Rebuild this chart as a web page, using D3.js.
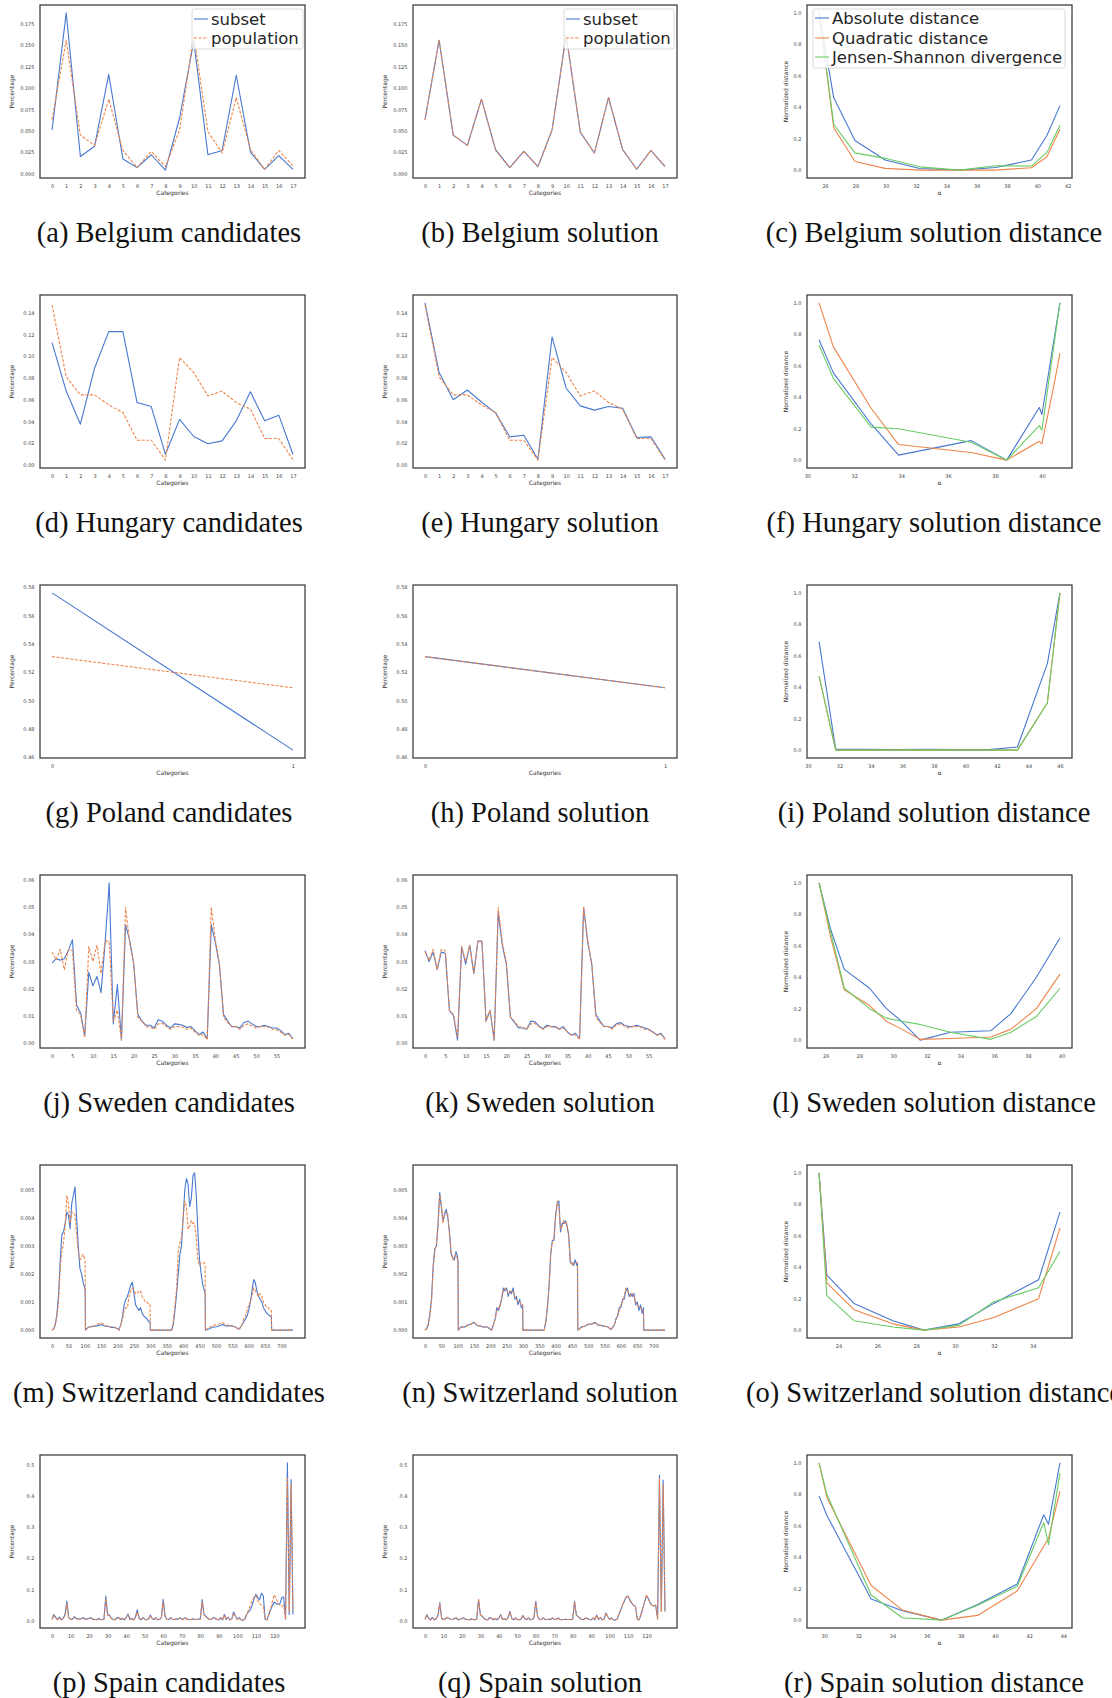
<!DOCTYPE html>
<html>
<head>
<meta charset="utf-8">
<script src="https://cdn.jsdelivr.net/npm/d3@7"></script>
<style>
  body { margin: 0; background: #fff; }
  svg text { font-family: "DejaVu Sans", sans-serif; }
</style>
</head>
<body>
<div id="fig"></div>
<script>
// ---------- data ----------

// Belgium
const belgiumCats = d3.range(18);
const belgiumCandSubset = [0.051, 0.188, 0.020, 0.032, 0.116, 0.017, 0.007, 0.022, 0.004, 0.065, 0.155, 0.022, 0.027, 0.115, 0.025, 0.005, 0.021, 0.005];
const belgiumPopulation = [0.063, 0.156, 0.045, 0.033, 0.087, 0.027, 0.007, 0.026, 0.008, 0.051, 0.162, 0.049, 0.024, 0.089, 0.028, 0.005, 0.027, 0.009];
const belgiumSolSubset  = [0.063, 0.156, 0.045, 0.033, 0.087, 0.028, 0.007, 0.026, 0.008, 0.051, 0.162, 0.048, 0.024, 0.089, 0.028, 0.005, 0.027, 0.008];
const belgiumAlpha = [25.6, 26.57, 27.97, 29.96, 32.23, 34.86, 37.25, 39.61, 40.63, 41.49];
const belgiumAbs   = [1.0, 0.46, 0.188, 0.064, 0.010, 0.0, 0.017, 0.064, 0.22, 0.41];
const belgiumQuad  = [1.0, 0.27, 0.055, 0.011, 0.0, 0.0, 0.0, 0.015, 0.085, 0.26];
const belgiumJS    = [1.0, 0.29, 0.11, 0.075, 0.021, 0.0, 0.028, 0.026, 0.113, 0.285];

// Hungary
const hungaryCats = d3.range(18);
const hungaryCandSubset = [0.1125, 0.068, 0.0376, 0.089, 0.1226, 0.1226, 0.0575, 0.0538, 0.010, 0.042, 0.0263, 0.0196, 0.0223, 0.0407, 0.0673, 0.0407, 0.0459, 0.010];
const hungaryPopulation = [0.147, 0.081, 0.0645, 0.0645, 0.0553, 0.0483, 0.0229, 0.0229, 0.0046, 0.0988, 0.085, 0.0636, 0.068, 0.0575, 0.0514, 0.0245, 0.0245, 0.0049];
const hungarySolSubset  = [0.149, 0.085, 0.060, 0.069, 0.058, 0.048, 0.026, 0.0275, 0.0055, 0.1177, 0.0706, 0.0544, 0.0505, 0.0538, 0.0523, 0.0254, 0.026, 0.0055];
const hungaryAlpha = [30.5, 31.11, 32.72, 33.89, 36.99, 38.5, 39.89, 40.0, 40.53, 40.77];
const hungaryAbs   = [0.765, 0.555, 0.23, 0.032, 0.124, 0.0, 0.335, 0.29, 0.78, 1.0];
const hungaryQuad  = [1.0, 0.72, 0.33, 0.099, 0.049, 0.0, 0.12, 0.103, 0.49, 0.68];
const hungaryJS    = [0.73, 0.52, 0.21, 0.20, 0.114, 0.0, 0.22, 0.19, 0.75, 1.0];

// Poland
const polandCats = [0, 1];
const polandCandSubset = [0.576, 0.465];
const polandPopulation = [0.531, 0.509];
const polandSolSubset  = [0.531, 0.509];
const polandAlpha = [30.7, 31.76, 33.5, 35.5, 37.5, 39.5, 41.5, 43.3, 45.2, 46.0];
const polandAbs   = [0.69, 0.005, 0.005, 0.004, 0.006, 0.004, 0.003, 0.02, 0.55, 1.0];
const polandQuad  = [0.47, 0.0, 0.0, 0.0, 0.0, 0.0, 0.0, 0.0, 0.3, 1.0];
const polandJS    = [0.47, 0.0, 0.0, 0.0, 0.0, 0.0, 0.0, 0.0, 0.3, 1.0];

// Sweden
const swedenCats = d3.range(60);
const swedenCandSubset = [
  0.0295, 0.031, 0.0305, 0.031, 0.034, 0.038, 0.014, 0.011, 0.0025, 0.026,
  0.021, 0.0245, 0.0185, 0.037, 0.059, 0.007, 0.0215, 0.001, 0.0435, 0.038,
  0.029, 0.0105, 0.008, 0.0065, 0.0065, 0.0055, 0.0085, 0.008, 0.0065, 0.0055,
  0.007, 0.0068, 0.0065, 0.0057, 0.006, 0.0045, 0.003, 0.004, 0.0015, 0.0435,
  0.037, 0.0285, 0.0105, 0.008, 0.006, 0.006, 0.0055, 0.0075, 0.008, 0.007,
  0.006, 0.006, 0.0065, 0.006, 0.0055, 0.0055, 0.0045, 0.003, 0.0035, 0.0015];
const swedenPopulation = [
  0.0335, 0.0305, 0.0345, 0.027, 0.0345, 0.034, 0.012, 0.0105, 0.002, 0.0355,
  0.030, 0.036, 0.0255, 0.0375, 0.0375, 0.008, 0.012, 0.001, 0.050, 0.037,
  0.0295, 0.0095, 0.008, 0.006, 0.0058, 0.005, 0.007, 0.0072, 0.006, 0.005,
  0.006, 0.006, 0.0058, 0.005, 0.0055, 0.004, 0.0028, 0.003, 0.0012, 0.050,
  0.038, 0.029, 0.0095, 0.0075, 0.006, 0.006, 0.005, 0.0065, 0.007, 0.0062,
  0.0055, 0.006, 0.006, 0.0058, 0.005, 0.0048, 0.004, 0.0028, 0.0032, 0.0012];
const swedenSolSubset = [
  0.034, 0.030, 0.0335, 0.027, 0.0335, 0.033, 0.012, 0.010, 0.001, 0.0355,
  0.029, 0.036, 0.0255, 0.0375, 0.0375, 0.008, 0.012, 0.001, 0.048, 0.036,
  0.029, 0.0095, 0.0075, 0.0055, 0.0055, 0.005, 0.008, 0.0078, 0.0062, 0.0052,
  0.0065, 0.006, 0.006, 0.005, 0.006, 0.004, 0.0028, 0.0035, 0.0015, 0.050,
  0.037, 0.029, 0.0105, 0.008, 0.0062, 0.006, 0.0055, 0.007, 0.0075, 0.0065,
  0.006, 0.006, 0.0065, 0.006, 0.0055, 0.005, 0.004, 0.003, 0.0035, 0.0015];
const swedenAlpha = [25.6, 26.3, 27.1, 28.6, 29.6, 30.5, 31.6, 33.4, 35.8, 37.0, 38.5, 39.9];
const swedenAbs   = [1.0, 0.7, 0.45, 0.33, 0.2, 0.12, 0.0, 0.05, 0.06, 0.17, 0.4, 0.65];
const swedenQuad  = [1.0, 0.65, 0.32, 0.22, 0.12, 0.07, 0.005, 0.01, 0.02, 0.07, 0.2, 0.42];
const swedenJS    = [1.0, 0.68, 0.33, 0.2, 0.14, 0.12, 0.1, 0.05, 0.005, 0.05, 0.15, 0.33];

// Switzerland (categories 0..735, read at the visible break points)
const swissCats = [
  0, 5, 10, 15, 20, 25, 30, 35, 40, 45,
  50, 55, 60, 65, 70, 75, 80, 85, 90, 95,
  100, 101, 102, 110, 120, 130, 140, 150, 160, 170,
  180, 190, 200, 204, 210, 215, 220, 225, 230, 235,
  240, 245, 250, 255, 260, 265, 270, 275, 280, 285,
  290, 295, 299, 300, 365, 370, 375, 380, 385, 390,
  395, 400, 405, 410, 415, 420, 425, 430, 435, 440,
  445, 450, 455, 460, 465, 467, 468, 480, 490, 500,
  510, 520, 530, 540, 550, 560, 570, 575, 580, 585,
  590, 595, 600, 605, 610, 615, 620, 625, 630, 635,
  640, 645, 650, 655, 660, 665, 669, 670, 735];
const swissCandSubset = [
  0, 0.00005, 0.0002, 0.0006, 0.0013, 0.0025, 0.0034, 0.0035, 0.0038, 0.0042,
  0.0041, 0.0036, 0.0045, 0.0048, 0.0051, 0.0040, 0.0030, 0.0022, 0.0020, 0.0017,
  0.0015, 0.0014, 0, 0.0001, 0.00012, 0.00014, 0.00016, 0.0002, 0.00015, 0.00013,
  0.0001, 0.0001, 0.00005, 0, 0.0002, 0.0005, 0.0009, 0.0011, 0.0012, 0.0014,
  0.0016, 0.0017, 0.0013, 0.0009, 0.0008, 0.0007, 0.0008, 0.0006, 0.0005, 0.00045,
  0.0004, 0.0003, 0.0003, 0, 0, 0.0002, 0.0007, 0.0013, 0.0020, 0.0027,
  0.0030, 0.0040, 0.0050, 0.0054, 0.0052, 0.0044, 0.0047, 0.0055, 0.0056, 0.0048,
  0.0035, 0.0025, 0.0020, 0.0016, 0.0014, 0.0013, 0, 0.00005, 0.0001, 0.00012,
  0.00015, 0.0002, 0.00015, 0.00015, 0.00015, 0.0001, 0.00003, 0.0001, 0.0002, 0.0003,
  0.0004, 0.0005, 0.0007, 0.0010, 0.0014, 0.0018, 0.0017, 0.0014, 0.0012, 0.0011,
  0.0010, 0.0008, 0.0007, 0.0006, 0.00055, 0.0005, 0.0005, 0, 0];
const swissPopulation = [
  0, 0.00005, 0.0002, 0.0005, 0.0010, 0.0022, 0.0028, 0.0031, 0.0037, 0.0048,
  0.0045, 0.0038, 0.0042, 0.0042, 0.0041, 0.0034, 0.0028, 0.0025, 0.0026, 0.0027,
  0.0025, 0.0024, 0, 0.0001, 0.00012, 0.00016, 0.00022, 0.00026, 0.00018, 0.00014,
  0.00012, 0.0001, 0.00004, 0, 0.0002, 0.0004, 0.0007, 0.0008, 0.0008, 0.0012,
  0.0014, 0.0015, 0.0014, 0.0013, 0.0013, 0.0014, 0.0014, 0.0012, 0.0011, 0.0010,
  0.0010, 0.0009, 0.0009, 0, 0, 0.0003, 0.0009, 0.0015, 0.0028, 0.0031,
  0.0033, 0.0040, 0.0046, 0.0044, 0.0036, 0.0037, 0.0039, 0.0038, 0.0038, 0.0033,
  0.0025, 0.0023, 0.0024, 0.0024, 0.0024, 0.0023, 0, 0.0001, 0.00015, 0.0002,
  0.00022, 0.00026, 0.0002, 0.00016, 0.00015, 0.0001, 0.00003, 0.0001, 0.0002, 0.0004,
  0.0005, 0.0007, 0.0009, 0.0010, 0.0012, 0.0015, 0.0014, 0.0013, 0.0012, 0.0013,
  0.0012, 0.0010, 0.0009, 0.0008, 0.0008, 0.0007, 0.0007, 0, 0];
const swissSolSubset = [
  0, 0.00005, 0.0002, 0.0006, 0.0011, 0.0023, 0.0029, 0.0030, 0.0038, 0.0049,
  0.0044, 0.0039, 0.0041, 0.0043, 0.0040, 0.0035, 0.0027, 0.0026, 0.0025, 0.0028,
  0.0026, 0.0024, 0, 0.00012, 0.0001, 0.00018, 0.0002, 0.00028, 0.00016, 0.00015,
  0.0001, 0.00012, 0.00003, 0, 0.00022, 0.0004, 0.0008, 0.0007, 0.0009, 0.0011,
  0.0015, 0.0014, 0.0015, 0.0012, 0.0014, 0.0013, 0.0015, 0.0011, 0.0012, 0.0009,
  0.0011, 0.0008, 0.0009, 0, 0, 0.0003, 0.0008, 0.0016, 0.0027, 0.0032,
  0.0032, 0.0041, 0.0045, 0.0046, 0.0035, 0.0038, 0.0038, 0.0039, 0.0037, 0.0034,
  0.0024, 0.0024, 0.0023, 0.0025, 0.0023, 0.0024, 0, 0.00012, 0.00014, 0.00022,
  0.0002, 0.00028, 0.00018, 0.00017, 0.00013, 0.00012, 0.00002, 0.00012, 0.00018, 0.00042,
  0.0005, 0.0008, 0.0008, 0.0011, 0.0011, 0.0014, 0.0015, 0.0012, 0.0013, 0.0012,
  0.0013, 0.0009, 0.0010, 0.0007, 0.0009, 0.0006, 0.0008, 0, 0];
const swissAlpha = [23.0, 23.4, 24.8, 26.8, 28.4, 30.2, 32.0, 34.3, 35.4];
const swissAbs   = [1.0, 0.35, 0.17, 0.06, 0.0, 0.04, 0.17, 0.32, 0.75];
const swissQuad  = [1.0, 0.3, 0.13, 0.04, 0.0, 0.02, 0.08, 0.2, 0.65];
const swissJS    = [1.0, 0.22, 0.06, 0.02, 0.0, 0.03, 0.18, 0.27, 0.5];

// Spain
const spainCats = d3.range(131);
const spainCandSubset = [
  0.005, 0.02, 0.01, 0.004, 0.012, 0.003, 0.008, 0.02, 0.063, 0.01,
  0.005, 0.005, 0.013, 0.008, 0.006, 0.005, 0.008, 0.01, 0.004, 0.006,
  0.008, 0.01, 0.004, 0.005, 0.003, 0.007, 0.005, 0.004, 0.005, 0.078,
  0.02, 0.018, 0.008, 0.005, 0.003, 0.01, 0.01, 0.004, 0.008, 0.003,
  0.01, 0.022, 0.005, 0.007, 0.003, 0.012, 0.035, 0.008, 0.003, 0.01,
  0.005, 0.003, 0.006, 0.018, 0.008, 0.004, 0.01, 0.003, 0.005, 0.01,
  0.069, 0.015, 0.005, 0.004, 0.01, 0.005, 0.004, 0.006, 0.005, 0.01,
  0.005, 0.006, 0.01, 0.005, 0.003, 0.004, 0.006, 0.004, 0.005, 0.005,
  0.006, 0.068, 0.02, 0.015, 0.008, 0.004, 0.005, 0.01, 0.008, 0.004,
  0.003, 0.01, 0.003, 0.02, 0.004, 0.012, 0.003, 0.006, 0.028, 0.015,
  0.004, 0.01, 0.003, 0.002, 0.005, 0.02, 0.028, 0.035, 0.05, 0.07,
  0.085, 0.075, 0.067, 0.088, 0.08, 0.005, 0.003, 0.02, 0.035, 0.05,
  0.06, 0.055, 0.052, 0.055, 0.075, 0.076, 0.005, 0.505, 0.02, 0.452,
  0.02];
const spainPopulation = [
  0.004, 0.018, 0.008, 0.003, 0.01, 0.003, 0.007, 0.015, 0.055, 0.008,
  0.004, 0.005, 0.011, 0.007, 0.005, 0.004, 0.007, 0.009, 0.004, 0.005,
  0.007, 0.009, 0.004, 0.004, 0.003, 0.006, 0.004, 0.003, 0.004, 0.07,
  0.018, 0.016, 0.007, 0.004, 0.003, 0.009, 0.009, 0.003, 0.007, 0.003,
  0.009, 0.018, 0.004, 0.006, 0.003, 0.01, 0.028, 0.007, 0.003, 0.009,
  0.004, 0.003, 0.005, 0.016, 0.007, 0.004, 0.009, 0.003, 0.004, 0.009,
  0.06, 0.013, 0.004, 0.004, 0.009, 0.004, 0.004, 0.005, 0.004, 0.009,
  0.004, 0.005, 0.009, 0.004, 0.003, 0.004, 0.005, 0.004, 0.004, 0.004,
  0.005, 0.06, 0.018, 0.013, 0.007, 0.004, 0.004, 0.009, 0.007, 0.004,
  0.003, 0.009, 0.003, 0.017, 0.004, 0.01, 0.003, 0.005, 0.024, 0.013,
  0.004, 0.009, 0.003, 0.002, 0.005, 0.02, 0.035, 0.05, 0.065, 0.075,
  0.08, 0.065, 0.055, 0.05, 0.045, 0.005, 0.003, 0.02, 0.04, 0.065,
  0.083, 0.07, 0.055, 0.05, 0.045, 0.05, 0.005, 0.455, 0.03, 0.435,
  0.03];
const spainSolSubset = [
  0.005, 0.019, 0.008, 0.003, 0.011, 0.003, 0.006, 0.016, 0.058, 0.008,
  0.004, 0.006, 0.01, 0.007, 0.005, 0.004, 0.008, 0.009, 0.003, 0.005,
  0.007, 0.01, 0.004, 0.004, 0.003, 0.006, 0.004, 0.003, 0.005, 0.068,
  0.019, 0.015, 0.007, 0.004, 0.003, 0.01, 0.008, 0.003, 0.007, 0.003,
  0.009, 0.02, 0.004, 0.006, 0.003, 0.01, 0.03, 0.007, 0.003, 0.009,
  0.004, 0.003, 0.005, 0.017, 0.007, 0.004, 0.009, 0.003, 0.004, 0.009,
  0.062, 0.013, 0.004, 0.004, 0.009, 0.004, 0.004, 0.005, 0.004, 0.009,
  0.004, 0.005, 0.009, 0.004, 0.003, 0.004, 0.005, 0.004, 0.004, 0.004,
  0.005, 0.062, 0.018, 0.013, 0.007, 0.004, 0.004, 0.009, 0.007, 0.004,
  0.003, 0.009, 0.003, 0.018, 0.004, 0.01, 0.003, 0.005, 0.025, 0.013,
  0.004, 0.009, 0.003, 0.002, 0.005, 0.02, 0.034, 0.05, 0.063, 0.077,
  0.078, 0.066, 0.056, 0.049, 0.046, 0.005, 0.003, 0.02, 0.04, 0.062,
  0.08, 0.07, 0.056, 0.05, 0.047, 0.05, 0.005, 0.465, 0.03, 0.45,
  0.03];
const spainAlpha = [29.7, 30.16, 32.75, 34.57, 36.86, 38.98, 41.3, 42.85, 43.13, 43.8];
const spainAbs   = [0.79, 0.665, 0.135, 0.06, 0.0, 0.1, 0.23, 0.67, 0.61, 1.0];
const spainQuad  = [1.0, 0.78, 0.22, 0.065, 0.0, 0.03, 0.185, 0.47, 0.52, 0.82];
const spainJS    = [1.0, 0.80, 0.16, 0.015, 0.0, 0.095, 0.215, 0.62, 0.48, 0.935];

// tick labels
const belgiumYTicks = [0, 0.025, 0.05, 0.075, 0.1, 0.125, 0.15, 0.175];
const hungaryYTicks = [0, 0.02, 0.04, 0.06, 0.08, 0.1, 0.12, 0.14];
const polandYTicks = [0.46, 0.48, 0.5, 0.52, 0.54, 0.56, 0.58];
const swedenYTicks = [0, 0.01, 0.02, 0.03, 0.04, 0.05, 0.06];
const swissYTicks = [0, 0.001, 0.002, 0.003, 0.004, 0.005];
const spainYTicks = [0, 0.1, 0.2, 0.3, 0.4, 0.5];
const distYTicks = [0, 0.2, 0.4, 0.6, 0.8, 1.0];
const swedenXTicks = [0, 5, 10, 15, 20, 25, 30, 35, 40, 45, 50, 55];
const swissXTicks = [0, 50, 100, 150, 200, 250, 300, 350, 400, 450, 500, 550, 600, 650, 700];
const spainXTicks = [0, 10, 20, 30, 40, 50, 60, 70, 80, 90, 100, 110, 120];

const captions = [
  ["(a) Belgium candidates", "(b) Belgium solution", "(c) Belgium solution distance"],
  ["(d) Hungary candidates", "(e) Hungary solution", "(f) Hungary solution distance"],
  ["(g) Poland candidates", "(h) Poland solution", "(i) Poland solution distance"],
  ["(j) Sweden candidates", "(k) Sweden solution", "(l) Sweden solution distance"],
  ["(m) Switzerland candidates", "(n) Switzerland solution", "(o) Switzerland solution distance"],
  ["(p) Spain candidates", "(q) Spain solution", "(r) Spain solution distance"]
];

// ---------- layout ----------
const blue = "#4878d0", orange = "#ee854a", green = "#6acc64";
const colLeft = [40, 413, 807], colRight = [305, 677, 1072];
const rowTop = 5, rowStep = 290, plotH = 173;
const captionX = [169, 540, 934];

var svg = d3.select("#fig").append("svg")
  .attr("width", 1112)
  .attr("height", 1698);

function padded(vals) {
  var ext = d3.extent(vals);
  var m = (ext[1] - ext[0]) * 0.05;
  return [ext[0] - m, ext[1] + m];
}

function drawPanel(row, col, p) {
  var x0 = colLeft[col], x1 = colRight[col];
  var y0 = rowTop + row * rowStep, y1 = y0 + plotH;
  var g = svg.append("g");

  var x = d3.scaleLinear().domain(p.xDomain).range([x0, x1]);
  var y = d3.scaleLinear().domain(p.yDomain).range([y1, y0]);

  p.series.forEach(function(s) {
    var line = d3.line()
      .x(function(d, i) { return x(s.x[i]); })
      .y(function(d) { return y(d); });
    g.append("path")
      .datum(s.y)
      .attr("d", line)
      .attr("fill", "none")
      .attr("stroke", s.color)
      .attr("stroke-width", 1.1)
      .attr("stroke-linejoin", "round")
      .attr("stroke-dasharray", s.dash ? "3,1.6" : null);
  });

  var xa = g.append("g")
    .attr("transform", "translate(0," + y1 + ")")
    .call(d3.axisBottom(x).tickValues(p.xTicks).tickSize(0).tickPadding(6.2).tickFormat(d3.format("d")));
  var ya = g.append("g")
    .attr("transform", "translate(" + x0 + ",0)")
    .call(d3.axisLeft(y).tickValues(p.yTicks).tickSize(0).tickPadding(5.5).tickFormat(d3.format(p.yFmt)));
  [xa, ya].forEach(function(a) {
    a.select(".domain").remove();
    a.attr("font-size", 5).attr("font-family", "DejaVu Sans");
    a.selectAll("text").attr("fill", "#444");
  });

  // frame
  g.append("rect")
    .attr("x", x0).attr("y", y0)
    .attr("width", x1 - x0).attr("height", y1 - y0)
    .attr("fill", "none")
    .attr("stroke", "#3a3a3a")
    .attr("stroke-width", 1.25);

  // axis labels
  g.append("text")
    .attr("x", (x0 + x1) / 2)
    .attr("y", y1 + 17)
    .attr("text-anchor", "middle")
    .style("font-size", "6px")
    .style("fill", "#333")
    .text(p.xLabel);
  g.append("text")
    .attr("transform", "translate(" + (x0 - (col == 2 ? 21 : 28)) + "," + ((y0 + y1) / 2) + ") rotate(-90)")
    .attr("dy", "0.35em")
    .attr("text-anchor", "middle")
    .style("font-size", "6px")
    .style("fill", "#333")
    .text(p.yLabel);

  // caption
  svg.append("text")
    .attr("x", captionX[col])
    .attr("y", 242 + row * rowStep)
    .attr("text-anchor", "middle")
    .style("font-family", "'Liberation Serif', 'Times New Roman', serif")
    .style("font-size", "28.5px")
    .style("fill", "#111")
    .text(captions[row][col]);

  return g;
}

function drawLegend(box, items) {
  var lg = svg.append("g");
  lg.append("rect")
    .attr("x", box.x).attr("y", box.y)
    .attr("width", box.w).attr("height", box.h)
    .attr("rx", 2)
    .attr("fill", "white").attr("fill-opacity", 0.85)
    .attr("stroke", "#d0d0d0").attr("stroke-width", 0.8);
  items.forEach(function(it, i) {
    var cy = box.rows[i];
    lg.append("line")
      .attr("x1", box.hx).attr("x2", box.hx + 14)
      .attr("y1", cy).attr("y2", cy)
      .attr("stroke", it.color).attr("stroke-width", 1.1)
      .attr("stroke-dasharray", it.dash ? "3,1.6" : null);
    lg.append("text")
      .attr("x", box.tx).attr("y", cy)
      .attr("dy", "0.36em")
      .style("font-size", "16.5px")
      .style("fill", "#262626")
      .text(it.label);
  });
}

// ---------- panels ----------
var countries = [
  {cats: belgiumCats, cand: belgiumCandSubset, pop: belgiumPopulation, sol: belgiumSolSubset,
   xTicks: belgiumCats, yTicks: belgiumYTicks, yFmt: ".3f",
   alpha: belgiumAlpha, abs: belgiumAbs, quad: belgiumQuad, js: belgiumJS, aTicks: [26, 28, 30, 32, 34, 36, 38, 40, 42]},
  {cats: hungaryCats, cand: hungaryCandSubset, pop: hungaryPopulation, sol: hungarySolSubset,
   xTicks: hungaryCats, yTicks: hungaryYTicks, yFmt: ".2f",
   alpha: hungaryAlpha, abs: hungaryAbs, quad: hungaryQuad, js: hungaryJS, aTicks: [30, 32, 34, 36, 38, 40]},
  {cats: polandCats, cand: polandCandSubset, pop: polandPopulation, sol: polandSolSubset,
   xTicks: polandCats, yTicks: polandYTicks, yFmt: ".2f",
   alpha: polandAlpha, abs: polandAbs, quad: polandQuad, js: polandJS, aTicks: [30, 32, 34, 36, 38, 40, 42, 44, 46]},
  {cats: swedenCats, cand: swedenCandSubset, pop: swedenPopulation, sol: swedenSolSubset,
   xTicks: swedenXTicks, yTicks: swedenYTicks, yFmt: ".2f",
   alpha: swedenAlpha, abs: swedenAbs, quad: swedenQuad, js: swedenJS, aTicks: [26, 28, 30, 32, 34, 36, 38, 40]},
  {cats: swissCats, cand: swissCandSubset, pop: swissPopulation, sol: swissSolSubset,
   xTicks: swissXTicks, yTicks: swissYTicks, yFmt: ".3f",
   alpha: swissAlpha, abs: swissAbs, quad: swissQuad, js: swissJS, aTicks: [24, 26, 28, 30, 32, 34]},
  {cats: spainCats, cand: spainCandSubset, pop: spainPopulation, sol: spainSolSubset,
   xTicks: spainXTicks, yTicks: spainYTicks, yFmt: ".1f",
   alpha: spainAlpha, abs: spainAbs, quad: spainQuad, js: spainJS, aTicks: [30, 32, 34, 36, 38, 40, 42, 44]}
];

countries.forEach(function(c, row) {
  var xDom = padded(c.cats);
  var yDom = padded(c.cand.concat(c.pop, c.sol));
  drawPanel(row, 0, {
    xDomain: xDom, yDomain: yDom, xTicks: c.xTicks, yTicks: c.yTicks, yFmt: c.yFmt,
    xLabel: "Categories", yLabel: "Percentage",
    series: [
      {x: c.cats, y: c.cand, color: blue},
      {x: c.cats, y: c.pop, color: orange, dash: true}
    ]
  });
  drawPanel(row, 1, {
    xDomain: xDom, yDomain: yDom, xTicks: c.xTicks, yTicks: c.yTicks, yFmt: c.yFmt,
    xLabel: "Categories", yLabel: "Percentage",
    series: [
      {x: c.cats, y: c.sol, color: blue},
      {x: c.cats, y: c.pop, color: orange, dash: true}
    ]
  });
  drawPanel(row, 2, {
    xDomain: padded(c.alpha), yDomain: padded(c.abs.concat(c.quad, c.js)),
    xTicks: c.aTicks, yTicks: distYTicks, yFmt: ".1f",
    xLabel: "\u03b1", yLabel: "Normalized distance",
    series: [
      {x: c.alpha, y: c.abs, color: blue},
      {x: c.alpha, y: c.quad, color: orange},
      {x: c.alpha, y: c.js, color: green}
    ]
  });
});

// legends (first row only)
drawLegend({x: 192, y: 9, w: 111, h: 40, hx: 194, tx: 211, rows: [19, 38]},
  [{label: "subset", color: blue}, {label: "population", color: orange, dash: true}]);
drawLegend({x: 564, y: 9, w: 110, h: 40, hx: 566, tx: 583, rows: [19, 38]},
  [{label: "subset", color: blue}, {label: "population", color: orange, dash: true}]);
drawLegend({x: 813, y: 9, w: 252, h: 59, hx: 815, tx: 832, rows: [18, 38, 57]},
  [{label: "Absolute distance", color: blue}, {label: "Quadratic distance", color: orange},
   {label: "Jensen-Shannon divergence", color: green}]);
</script>
</body>
</html>
